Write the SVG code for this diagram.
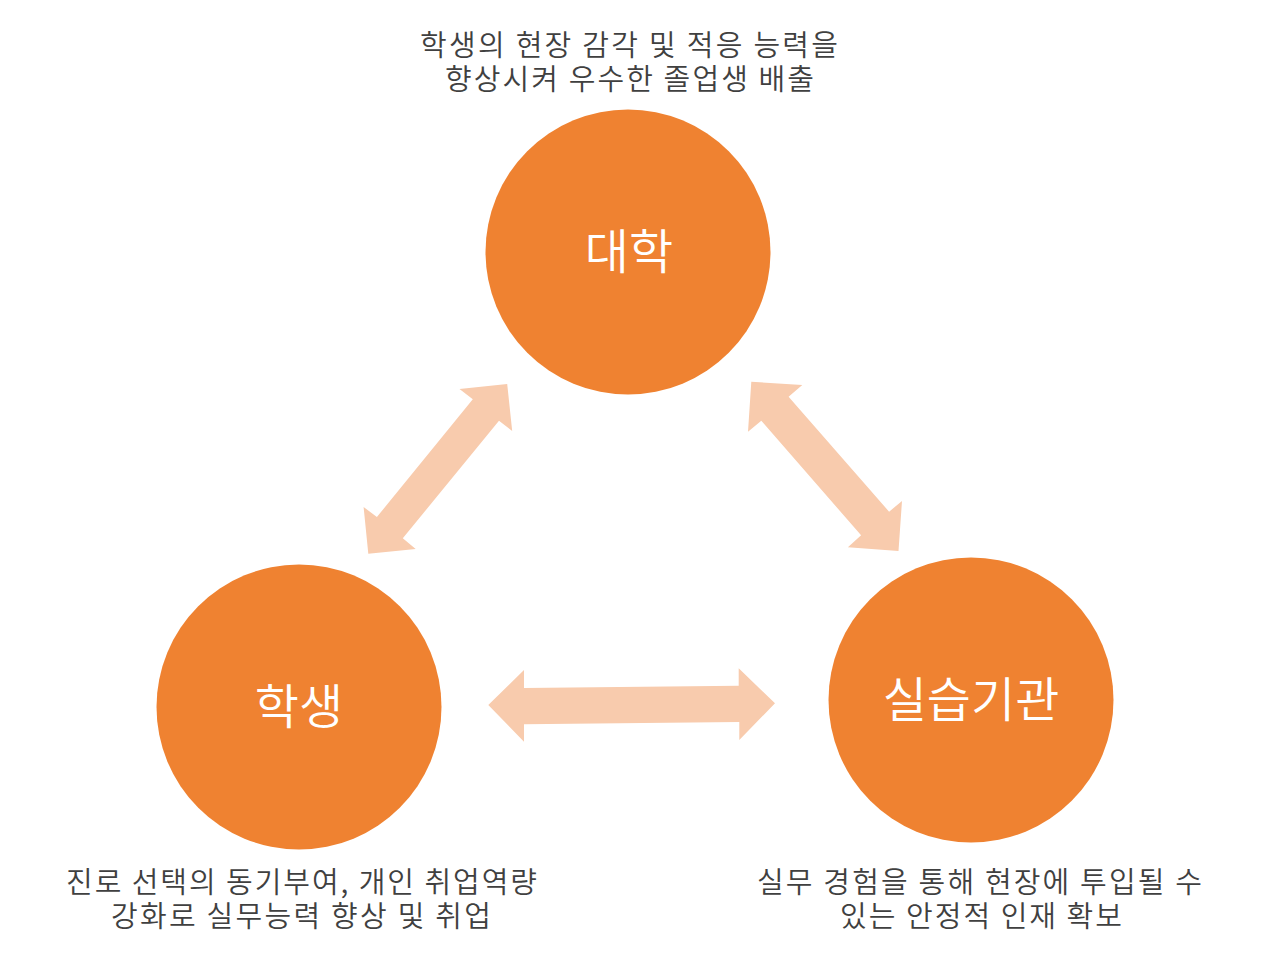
<svg xmlns="http://www.w3.org/2000/svg" width="1271" height="975" viewBox="0 0 1271 975">
<style>
.node circle{fill:#EF8231}
.lbl{font-family:"Noto Sans CJK KR","Noto Sans",sans-serif;font-size:48px;font-weight:350;fill:#FFFFFF;text-anchor:middle}
.cap{font-family:"Noto Sans CJK KR","Noto Sans",sans-serif;font-size:29px;font-weight:350;fill:#404040;text-anchor:middle}
.arr{fill:#F8CBAD}
</style>
<rect width="1271" height="975" fill="#FFFFFF"/>
<g id="connectors">
<polygon class="arr" points="459.5,389 507.2,384 512.2,431 499,420.7 402.8,538.3 415.7,549 368.3,553.7 363.6,507 376.9,517 472.8,399.3"/>
<polygon class="arr" points="751.3,381.7 802.3,385 788.6,396.7 889.1,511.7 902,501 898.5,551 847.9,547.3 861.1,535.3 761.3,420.7 748,431.7"/>
<polygon class="arr" points="488.3,705 524,670 524,688 738.7,685.7 738.7,668.3 775,703.3 739.3,740 739.3,722 524,724.3 524,741.7"/>
</g>
<g id="node-university" class="node">
<circle cx="628" cy="252" r="142.5"/>
<text class="lbl" x="629" y="269">대학</text>
</g>
<g id="node-student" class="node">
<circle cx="299" cy="707" r="142.5"/>
<text class="lbl" x="299" y="724">학생</text>
</g>
<g id="node-institution" class="node">
<circle cx="971" cy="700" r="142.5"/>
<text class="lbl" x="971" y="717">실습기관</text>
</g>
<g id="caption-university">
<text class="cap" x="629" y="56" textLength="418" lengthAdjust="spacing">학생의 현장 감각 및 적응 능력을</text>
<text class="cap" x="629.5" y="90" textLength="369" lengthAdjust="spacing">향상시켜 우수한 졸업생 배출</text>
</g>
<g id="caption-student">
<text class="cap" x="301.5" y="893" textLength="471" lengthAdjust="spacing">진로 선택의 동기부여, 개인 취업역량</text>
<text class="cap" x="301" y="927" textLength="380" lengthAdjust="spacing">강화로 실무능력 향상 및 취업</text>
</g>
<g id="caption-institution">
<text class="cap" x="979.5" y="893" textLength="445" lengthAdjust="spacing">실무 경험을 통해 현장에 투입될 수</text>
<text class="cap" x="981" y="927" textLength="282" lengthAdjust="spacing">있는 안정적 인재 확보</text>
</g>
</svg>
